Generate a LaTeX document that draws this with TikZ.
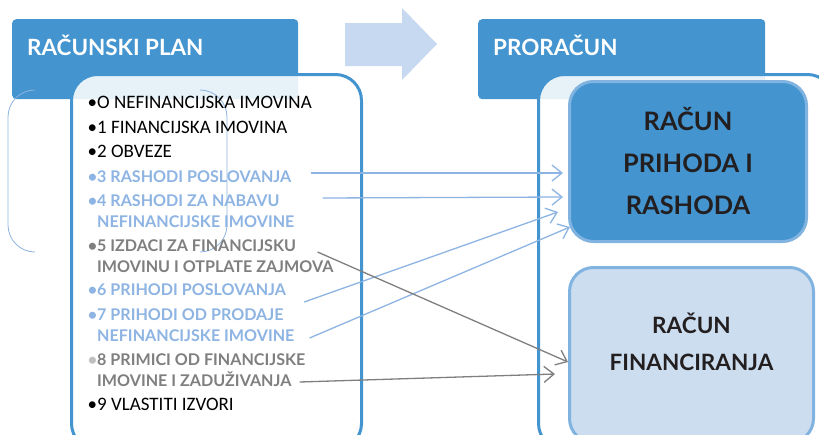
\documentclass[tikz,border=0pt]{standalone}
\usepackage{fontspec}
\setmainfont{Carlito}
\newfontfamily\carb{Lato}
\usetikzlibrary{arrows.meta}
\definecolor{hdblue}{HTML}{4394CF}
\definecolor{arrowblue}{HTML}{C6D9F1}
\definecolor{lightbox}{HTML}{CCDDEF}
\definecolor{boxrim}{HTML}{80B3E0}
\definecolor{linkblue}{HTML}{8DB4E2}
\definecolor{linkgray}{HTML}{7F7F7F}
\definecolor{darktext}{HTML}{231F20}
\newcommand{\itm}[1]{\llap{\textbullet}#1}

\begin{document}
\begin{tikzpicture}[x=1pt,y=-1pt]
    \tikzstyle{headbox}=[rectangle,rounded corners=4pt,fill=hdblue,inner sep=0pt,anchor=north west]
    \tikzstyle{headtext}=[anchor=base west,inner sep=0pt,text=white,font=\carb\bfseries\fontsize{22.4}{28}\selectfont]
    \tikzstyle{body}=[rectangle,rounded corners=26pt,draw=hdblue,line width=3pt,fill=white,fill opacity=0.87,anchor=north west,inner sep=0pt]
    \tikzstyle{bigbox}=[rectangle,rounded corners=24pt,draw=boxrim,line width=3pt,anchor=north west,inner sep=0pt]
    \tikzstyle{item}=[anchor=base west,inner sep=0pt,align=left,font=\fontsize{19}{21}\selectfont]
    \tikzstyle{blueitem}=[item,text=linkblue,font=\carb\bfseries\fontsize{16.1}{21}\selectfont]
    \tikzstyle{grayitem}=[item,text=linkgray,font=\carb\bfseries\fontsize{16.1}{21}\selectfont]
    \tikzstyle{bracket}=[draw=linkblue,line width=0.8pt,rounded corners=27pt]
    \tikzstyle{link}=[line width=1.3pt,-{Straight Barb[length=10pt,width=16pt]}]

    \useasboundingbox (0,0) rectangle (819,434);
    \clip (0,0) rectangle (819,434);

    % Draw the two headers
    \node[headbox,minimum width=286pt,minimum height=80pt] (hl) at (12,19) {};
    \node[headbox,minimum width=287pt,minimum height=80pt] (hr) at (478,19) {};

    % Draw the bodies over the headers
    \node[body,minimum width=290pt,minimum height=375pt] (bl) at (70,73) {};
    \node[body,minimum width=295pt,minimum height=375pt] (br) at (537,73) {};

    \node[headtext] (hlt) at (27,55) {RAČUNSKI PLAN};
    \node[headtext] (hrt) at (493,55) {PRORAČUN};

    % Thin brackets on the left
    \draw[bracket] (35,90) -- (8,90) -- (8,252) -- (35,252);
    \draw[bracket] (200,90) -- (227,90) -- (227,252) -- (200,252);

    % Big arrow between the two parts
    \fill[arrowblue] (345,23) -- (402,23) -- (402,8) -- (437,44) -- (402,80) -- (402,66) -- (345,66) -- cycle;

    % Draw the two accounts
    \node[bigbox,fill=hdblue,minimum width=237pt,minimum height=160pt,align=center,
          text=darktext,font=\carb\bfseries\fontsize{25.4}{42}\selectfont] (rpr) at (568,80)
          {RAČUN\\PRIHODA I\\RASHODA};
    \node[bigbox,fill=lightbox,minimum width=244pt,minimum height=175pt] (rfin) at (568,266) {};
    \node[align=center,text=darktext,font=\carb\bfseries\fontsize{22.5}{37}\selectfont] (rfint)
          at ([yshift=13.5pt]rfin.center) {RAČUN\\FINANCIRANJA};

    % Draw the account classes (base = last line)
    \node[item] (k0) at (97,108) {\itm{O NEFINANCIJSKA IMOVINA}};
    \node[item] (k1) at (97,133) {\itm{1 FINANCIJSKA IMOVINA}};
    \node[item] (k2) at (97,157) {\itm{2 OBVEZE}};
    \node[blueitem] (k3) at (97,182) {\itm{3 RASHODI POSLOVANJA}};
    \node[blueitem] (k4) at (97,227) {\itm{4 RASHODI ZA NABAVU}\\NEFINANCIJSKE IMOVINE};
    \node[grayitem] (k5) at (97,272) {\itm{5 IZDACI ZA FINANCIJSKU}\\IMOVINU I OTPLATE ZAJMOVA};
    \node[blueitem] (k6) at (97,295) {\itm{6 PRIHODI POSLOVANJA}};
    \node[blueitem] (k7) at (97,341) {\itm{7 PRIHODI OD PRODAJE}\\NEFINANCIJSKE IMOVINE};
    \node[grayitem] (k8) at (97,386) {\llap{\textcolor{linkgray!50}{\textbullet}}8 PRIMICI OD FINANCIJSKE\\IMOVINE I ZADUŽIVANJA};
    \node[item] (k9) at (97,410) {\itm{9 VLASTITI IZVORI}};

    % Arrow ends at the accounts
    \coordinate (t3) at (563,173);
    \coordinate (t4) at (563,197);
    \coordinate (t6) at (558,212);
    \coordinate (t7) at (570,227);
    \coordinate (t5) at (568,362);
    \coordinate (t8) at (555,374);

    % Connect the classes with the accounts
    \draw[link,draw=linkblue] ([xshift=19pt,yshift=9pt]k3.base east) -- (t3);
    \draw[link,draw=linkblue] ([xshift=28pt,yshift=29pt]k4.base east) -- (t4);
    \draw[link,draw=linkblue] ([xshift=18pt,yshift=-7pt]k6.base east) -- (t6);
    \draw[link,draw=linkblue] ([xshift=15pt,yshift=3pt]k7.base east) -- (t7);
    \draw[link,draw=linkgray] ([xshift=-16pt,yshift=20pt]k5.base east) -- (t5);
    \draw[link,draw=linkgray] ([xshift=-6pt,yshift=4pt]k8.base east) -- (t8);
\end{tikzpicture}
\end{document}
